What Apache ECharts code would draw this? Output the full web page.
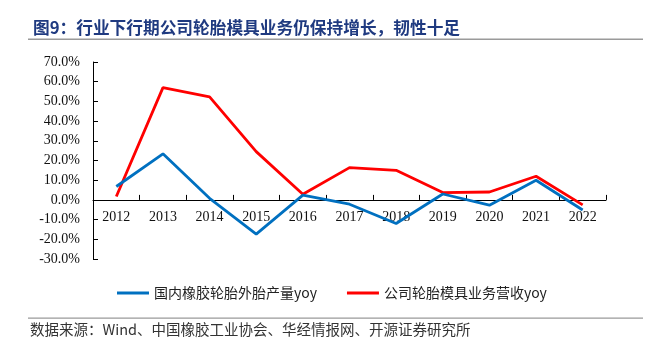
<!DOCTYPE html>
<html>
<head>
<meta charset="utf-8">
<script src="https://cdn.jsdelivr.net/npm/echarts@6/dist/echarts.min.js"></script>
<style>
  html, body { margin: 0; padding: 0; background: #fff; }
  #chart { width: 655px; height: 340px; }
</style>
</head>
<body>
<div id="chart"></div>
<script>
// Years on the category axis
const years = ['2012', '2013', '2014', '2015', '2016', '2017', '2018', '2019', '2020', '2021', '2022'];

// Domestic tyre output growth, % yoy
const tyreOutputYoy = [6.8, 23.4, 0.8, -17.4, 2.4, -2.2, -12.0, 3.0, -2.7, 10.0, -5.1];

// Company tyre-mould revenue growth, % yoy
const mouldRevenueYoy = [1.7, 57.0, 52.3, 24.5, 2.9, 16.4, 15.0, 3.7, 4.0, 12.0, -2.5];

const seriesNames = ['国内橡胶轮胎外胎产量yoy', '公司轮胎模具业务营收yoy'];

const titleText = '图9：行业下行期公司轮胎模具业务仍保持增长，韧性十足';
const sourceText = '数据来源：Wind、中国橡胶工业协会、华经情报网、开源证券研究所';

const yMin = -30;
const yMax = 70;

const cjk = '"Noto Sans CJK SC", "Noto Sans", sans-serif';
const serif = '"Liberation Serif", "Times New Roman", serif';

const gridTop = 62;
const gridBottom = 81;
const gridHeight = 340 - gridTop - gridBottom;
// shift the category axis up so it sits on the zero line, labels included
const xAxisOffset = -gridHeight * (0 - yMin) / (yMax - yMin);

const chart = echarts.init(document.getElementById('chart'), null, { renderer: 'canvas' });

chart.setOption({
  animation: false,
  backgroundColor: '#ffffff',
  title: {
    text: titleText,
    left: 28,
    top: 14,
    textStyle: { color: '#1F3A80', fontFamily: cjk, fontSize: 16.7, fontWeight: 'bold' }
  },
  graphic: [
    { type: 'rect', shape: { x: 28, y: 38.5, width: 615, height: 1.5 }, style: { fill: '#9a9a9a' } },
    { type: 'rect', shape: { x: 28, y: 317.5, width: 615, height: 1.2 }, style: { fill: '#9a9a9a' } },
    {
      type: 'text', left: 30, top: 322.5,
      style: { text: sourceText, fill: '#333', font: '14.5px ' + cjk }
    }
  ],
  legend: {
    top: 281,
    left: 112,
    itemWidth: 32,
    itemHeight: 3,
    itemGap: 30,
    icon: 'rect',
    textStyle: { fontFamily: cjk, fontSize: 14, color: '#222' },
    data: seriesNames
  },
  grid: { left: 93, right: 49, top: gridTop, bottom: gridBottom, containLabel: false },
  xAxis: {
    type: 'category',
    data: years,
    boundaryGap: true,
    offset: xAxisOffset,
    axisLine: { onZero: false, lineStyle: { color: '#000', width: 1 } },
    axisTick: { show: true, inside: true, length: 5, alignWithLabel: false, lineStyle: { color: '#000' } },
    axisLabel: { margin: 10, fontFamily: serif, fontSize: 14, color: '#111' },
    splitLine: { show: false }
  },
  yAxis: {
    type: 'value',
    min: yMin,
    max: yMax,
    interval: 10,
    axisLine: { show: true, lineStyle: { color: '#000', width: 1 } },
    axisTick: { show: true, inside: true, length: 5, lineStyle: { color: '#000' } },
    axisLabel: {
      margin: 13,
      fontFamily: serif,
      fontSize: 14,
      color: '#111',
      formatter: v => v.toFixed(1) + '%'
    },
    splitLine: { show: false }
  },
  series: [
    {
      name: seriesNames[0],
      type: 'line',
      data: tyreOutputYoy,
      showSymbol: false,
      symbol: 'none',
      lineStyle: { color: '#0070C0', width: 2.8 },
      itemStyle: { color: '#0070C0' },
      z: 3
    },
    {
      name: seriesNames[1],
      type: 'line',
      data: mouldRevenueYoy,
      showSymbol: false,
      symbol: 'none',
      lineStyle: { color: '#FF0000', width: 2.8 },
      itemStyle: { color: '#FF0000' },
      z: 2
    }
  ]
});
</script>
</body>
</html>
